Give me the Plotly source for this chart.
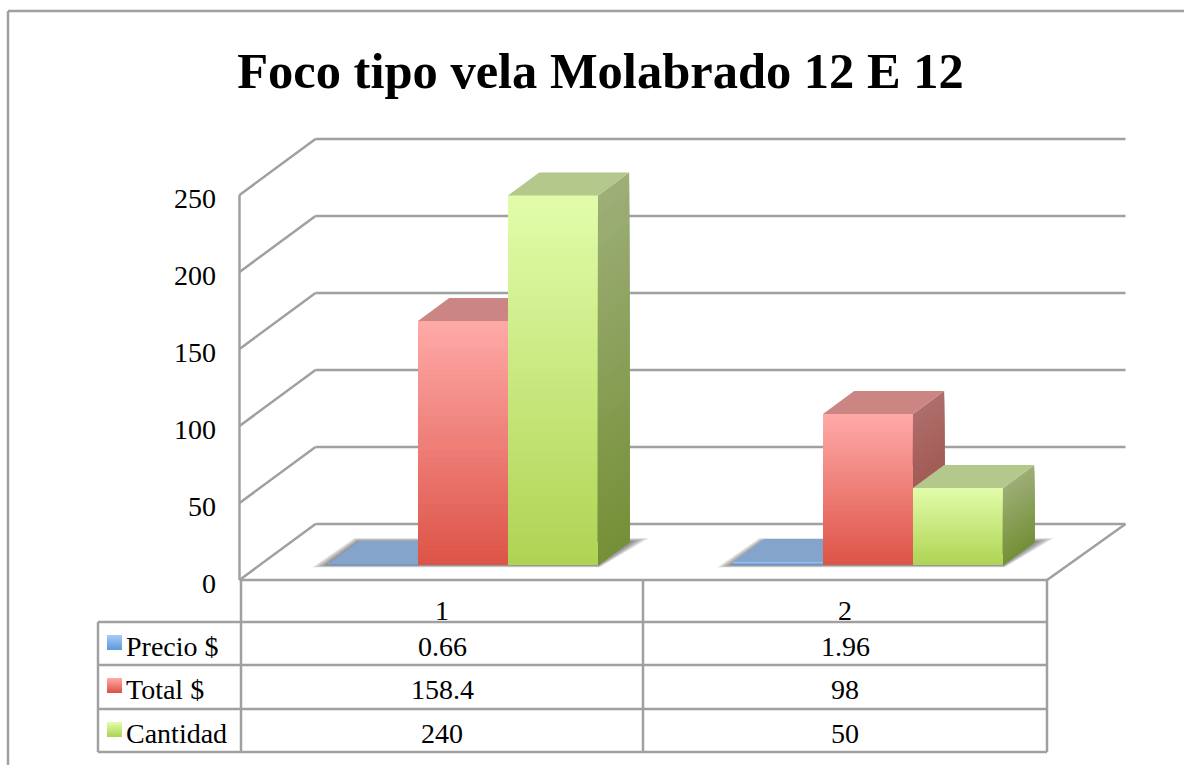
import plotly.graph_objects as go

TITLE = "Foco tipo vela Molabrado 12 E 12"
categories = [1, 2]
series_names = ["Precio $", "Total $", "Cantidad"]
precio = [0.66, 1.96]
total = [158.4, 98]
cantidad = [240, 50]
y_ticks = [0, 50, 100, 150, 200, 250]
table_texts = [["0.66", "1.96"], ["158.4", "98"], ["240", "50"]]

W, H = 1184, 765
FONT = "Liberation Serif"
GRID = "#a0a0a0"
LINE_W = 2.5
# gradient: (front top, front bottom, side top, side bottom, top face)
STYLE = [
    ("#a6c8f7", "#5e9bdc", "#7f9dc4", "#5c7fae", "#85a4cb"),
    ("#ffa9a7", "#dc5246", "#ad6d6a", "#97483f", "#cb8583"),
    ("#e1fca9", "#aed352", "#9dae77", "#748f36", "#b3c88a"),
]

# pixel-to-axis calibration of the sheared 3D look
X0_PX, X_STEP = 442.0, 405.0     # category 1 centre, px per category
Y0_PX, Y_STEP = 583.0, 1.54      # axis value 0 (label position), px per value unit
Y_SHIFT = 3 / Y_STEP             # marks sit 3 px above the label centres
DEPTH_X, DEPTH_Y = 76 / X_STEP, 56 / Y_STEP   # full depth in axis units
D0, D1 = 15 / 56, 38 / 56        # front / back of the bars in the depth
BAR_W = 90 / X_STEP
GROUP_L = -0.3318
N = 36


def hex2rgb(c):
    return tuple(int(c[i:i + 2], 16) for i in (1, 3, 5))


def mix(a, b, t):
    a, b = hex2rgb(a), hex2rgb(b)
    return "rgb(%d,%d,%d)" % tuple(round(a[i] + (b[i] - a[i]) * t) for i in range(3))


def px(x):
    return x / W


def py(y):
    return 1 - y / H


def proj(x, v, d):
    return x + d * DEPTH_X, v + d * DEPTH_Y + Y_SHIFT


def poly(points, color, name):
    xs = [p[0] for p in points] + [points[0][0]]
    ys = [p[1] for p in points] + [points[0][1]]
    return go.Scatter(x=xs, y=ys, mode="lines", fill="toself", fillcolor=color,
                      line=dict(width=0), hoverinfo="skip", showlegend=False, name=name)


fig = go.Figure()
shapes = []
annotations = []
series = [precio, total, cantidad]


def seg(p0, p1):
    shapes.append(dict(type="line", xref="x", yref="y", x0=p0[0], y0=p0[1], x1=p1[0], y1=p1[1],
                       layer="below", line=dict(color=GRID, width=LINE_W)))


def pseg(x0, y0, x1, y1):
    shapes.append(dict(type="line", xref="paper", yref="paper", x0=px(x0), y0=py(y0),
                       x1=px(x1), y1=py(y1), layer="below", line=dict(color=GRID, width=LINE_W)))


# walls and floor
left_x, right_x, floor_end = 0.5, 2.5, 2.494
for t in y_ticks:
    seg(proj(left_x, t, 0), proj(left_x, t, 1))
    seg(proj(left_x, t, 1), proj(right_x, t, 1))
seg(proj(left_x, 0, 0), proj(left_x, y_ticks[-1], 0))
seg(proj(left_x, 0, 0), proj(floor_end, 0, 0))
seg(proj(floor_end, 0, 0), proj(right_x, 0, 1))

# floor shadows
for c_i, cat in enumerate(categories):
    xl = cat + GROUP_L
    xr = xl + 3 * BAR_W
    for e in range(1, 9):
        a = proj(xl - e * 2.0 / X_STEP, -e * 0.3 / Y_STEP, D0)
        b = proj(xl - e * 0.6 / X_STEP, e * 0.5 / Y_STEP, D1)
        c = proj(xr + e * 2.5 / X_STEP, e * 0.5 / Y_STEP, D1)
        d = proj(xr + e * 0.2 / X_STEP, -e * 0.3 / Y_STEP, D0)
        path = "M %f,%f L %f,%f L %f,%f L %f,%f Z" % (*a, *b, *c, *d)
        shapes.append(dict(type="path", xref="x", yref="y", path=path, layer="below",
                           fillcolor="rgba(60,60,60,0.10)", line=dict(width=0)))

# bars: side faces and top faces as sheared polygons, front faces as bars
for s_i, (name, vals, st) in enumerate(zip(series_names, series, STYLE)):
    xs, bases, heights, colors = [], [], [], []
    for c_i, cat in enumerate(categories):
        v = vals[c_i]
        xl = cat + GROUP_L + s_i * BAR_W
        xr = xl + BAR_W
        nxt = series[s_i + 1][c_i] if s_i + 1 < len(series) else None
        # front-face gradient, tallest slice first so that no seams show
        for k in range(N, 0, -1):
            f = k / N
            xs.append(proj(xl + BAR_W / 2, 0, D0)[0])
            bases.append(proj(0, 0, D0)[1])
            heights.append(v * f)
            colors.append(mix(st[1], st[0], f))
        # side face (only what the next bar leaves visible)
        low = 0 if nxt is None else nxt
        if v > low:
            m = max(2, int(N * (v - low) / max(v, 1)))
            for k in range(m, 0, -1):
                lev = low + (v - low) * k / m
                col = mix(st[3], st[2], lev / v)
                fig.add_trace(poly([proj(xr, low, D0), proj(xr, lev, D0),
                                    proj(xr, lev, D1), proj(xr, low, D1)], col, name + " side"))
        # top face, cut where the next, taller bar hides it
        if nxt is not None and nxt > v:
            back_r = xr - (D1 - D0) * DEPTH_X
        else:
            back_r = xr
        fig.add_trace(poly([proj(xl, v, D0), proj(xl, v, D1), proj(back_r, v, D1),
                            proj(xr, v, D0)], st[4], name + " top"))
    fig.add_trace(go.Bar(x=xs, y=heights, base=bases, width=BAR_W, name=name,
                         marker=dict(color=colors, line=dict(width=0)), showlegend=False))

# data table
T_L, C0, C1, C2 = 98, 241, 643, 1047
R = [580, 622, 665, 709, 752]
R_TEXT = [610, 646, 689, 733]
pseg(C1, R[0], C1, R[-1])
pseg(C0, R[0], C0, R[-1])
pseg(C2, R[0], C2, R[-1])
pseg(T_L, R[1], T_L, R[-1])
for r in R[1:]:
    pseg(T_L, r, C2, r)


def text(x, y, s, anchor="center", size=28):
    annotations.append(dict(x=px(x), y=py(y), xref="paper", yref="paper", text=s, showarrow=False,
                            xanchor=anchor, yanchor="middle", xshift=0,
                            font=dict(family=FONT, size=size, color="black")))


for cat, xc in zip(categories, (442, 845)):
    text(xc, R_TEXT[0], str(cat))
for row, (name, st) in enumerate(zip(series_names, STYLE)):
    y = R_TEXT[row + 1]
    text(124, y, name, "left")
    for val, xc in zip(table_texts[row], (442, 845)):
        text(xc, y, val)
    top = y - 11
    for k in range(15):
        shapes.append(dict(type="rect", xref="paper", yref="paper", x0=px(107), x1=px(122),
                           y0=py(top + k), y1=py(top + k + 1), layer="above",
                           fillcolor=mix(st[0], st[1], k / 14), line=dict(width=0)))

# outer border
pseg(8, 11, 8, H)
pseg(8, 11, W, 11)

fig.update_layout(
    width=W, height=H, margin=dict(l=0, r=0, t=0, b=0),
    paper_bgcolor="white", plot_bgcolor="white", showlegend=False,
    barmode="overlay", bargap=0,
    title=dict(text="<b>%s</b>" % TITLE, x=600.5 / W, xanchor="center", y=py(70), yanchor="middle",
               font=dict(family=FONT, size=50.5, color="black")),
    shapes=shapes, annotations=annotations,
    xaxis=dict(range=[1 - X0_PX / X_STEP, 1 + (W - X0_PX) / X_STEP], visible=False, fixedrange=True),
    yaxis=dict(range=[(Y0_PX - H) / Y_STEP, Y0_PX / Y_STEP], tickvals=y_ticks, ticktext=[str(t) for t in y_ticks],
               showgrid=False, zeroline=False, showline=False, ticks="", anchor="free", position=240 / W,
               ticklabelstandoff=24, tickfont=dict(family=FONT, size=28, color="black"), fixedrange=True),
)
fig.write_html("out.html", post_script="document.body.style.margin='0';", config={"displayModeBar": False})
